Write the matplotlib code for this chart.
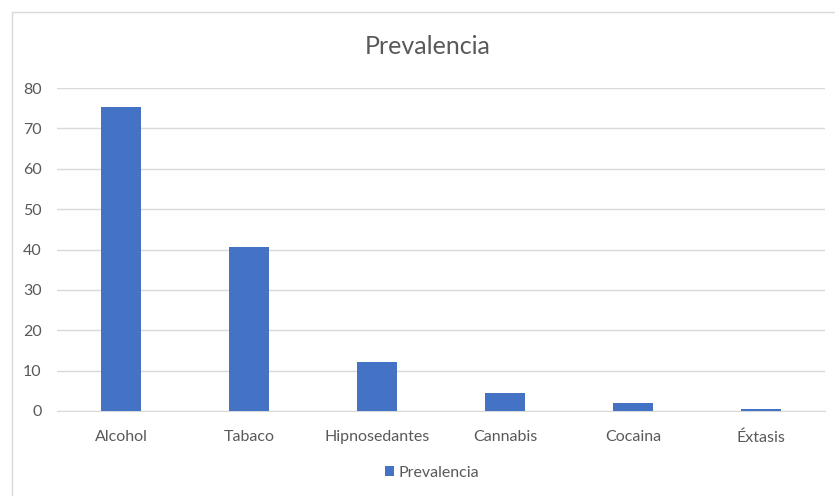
import matplotlib
matplotlib.use('Agg')
import matplotlib.pyplot as plt
from matplotlib.patches import Rectangle

categories = ['Alcohol', 'Tabaco', 'Hipnosedantes', 'Cannabis', 'Cocaina', 'Éxtasis']
prevalencia = [75.2, 40.6, 12.1, 4.5, 2.0, 0.5]
yticks = [0, 10, 20, 30, 40, 50, 60, 70, 80]

BAR = '#4472c4'
GRID = '#d9d9d9'
TXT = '#595959'

plt.rcParams['font.family'] = ['Lato', 'DejaVu Sans']

W, H = 835, 496
fig = plt.figure(figsize=(W / 100, H / 100), dpi=100)
fig.patch.set_facecolor('white')

# chart border (only top/left visible in the crop)
fig.patches.append(Rectangle((12 / W, -0.1), 1.2, (H - 12) / H + 0.1,
                             transform=fig.transFigure, fill=False,
                             edgecolor='#d9d9d9', linewidth=1))

left, right = 57 / W, 825 / W
bottom, top = 1 - 411 / H, 1 - 88 / H
ax = fig.add_axes([left, bottom, right - left, top - bottom])

x = range(len(categories))
ax.bar(x, prevalencia, width=0.32, color=BAR, label='Prevalencia', zorder=3)

ax.set_xlim(-0.5, len(categories) - 0.5)
ax.set_ylim(0, 80)
ax.set_yticks(yticks)
ax.set_xticks(list(x))
ax.set_xticklabels(categories)
ax.grid(axis='y', color=GRID, linewidth=1, zorder=0)
ax.tick_params(length=0, colors=TXT, labelsize=11.5)
ax.tick_params(axis='x', pad=14)
ax.tick_params(axis='y', pad=11)
for s in ['top', 'right', 'left']:
    ax.spines[s].set_visible(False)
ax.spines['bottom'].set_color(GRID)

fig.text(428 / W, 1 - 47 / H, 'Prevalencia', ha='center', va='center',
         fontsize=18, color=TXT)

fig.legend(loc='center', bbox_to_anchor=(432 / W, 1 - 473 / H), frameon=False,
           fontsize=11.5, labelcolor=TXT, handlelength=0.6, handleheight=0.6,
           handletextpad=0.3)

plt.savefig('out.png', dpi=100, facecolor='white')
